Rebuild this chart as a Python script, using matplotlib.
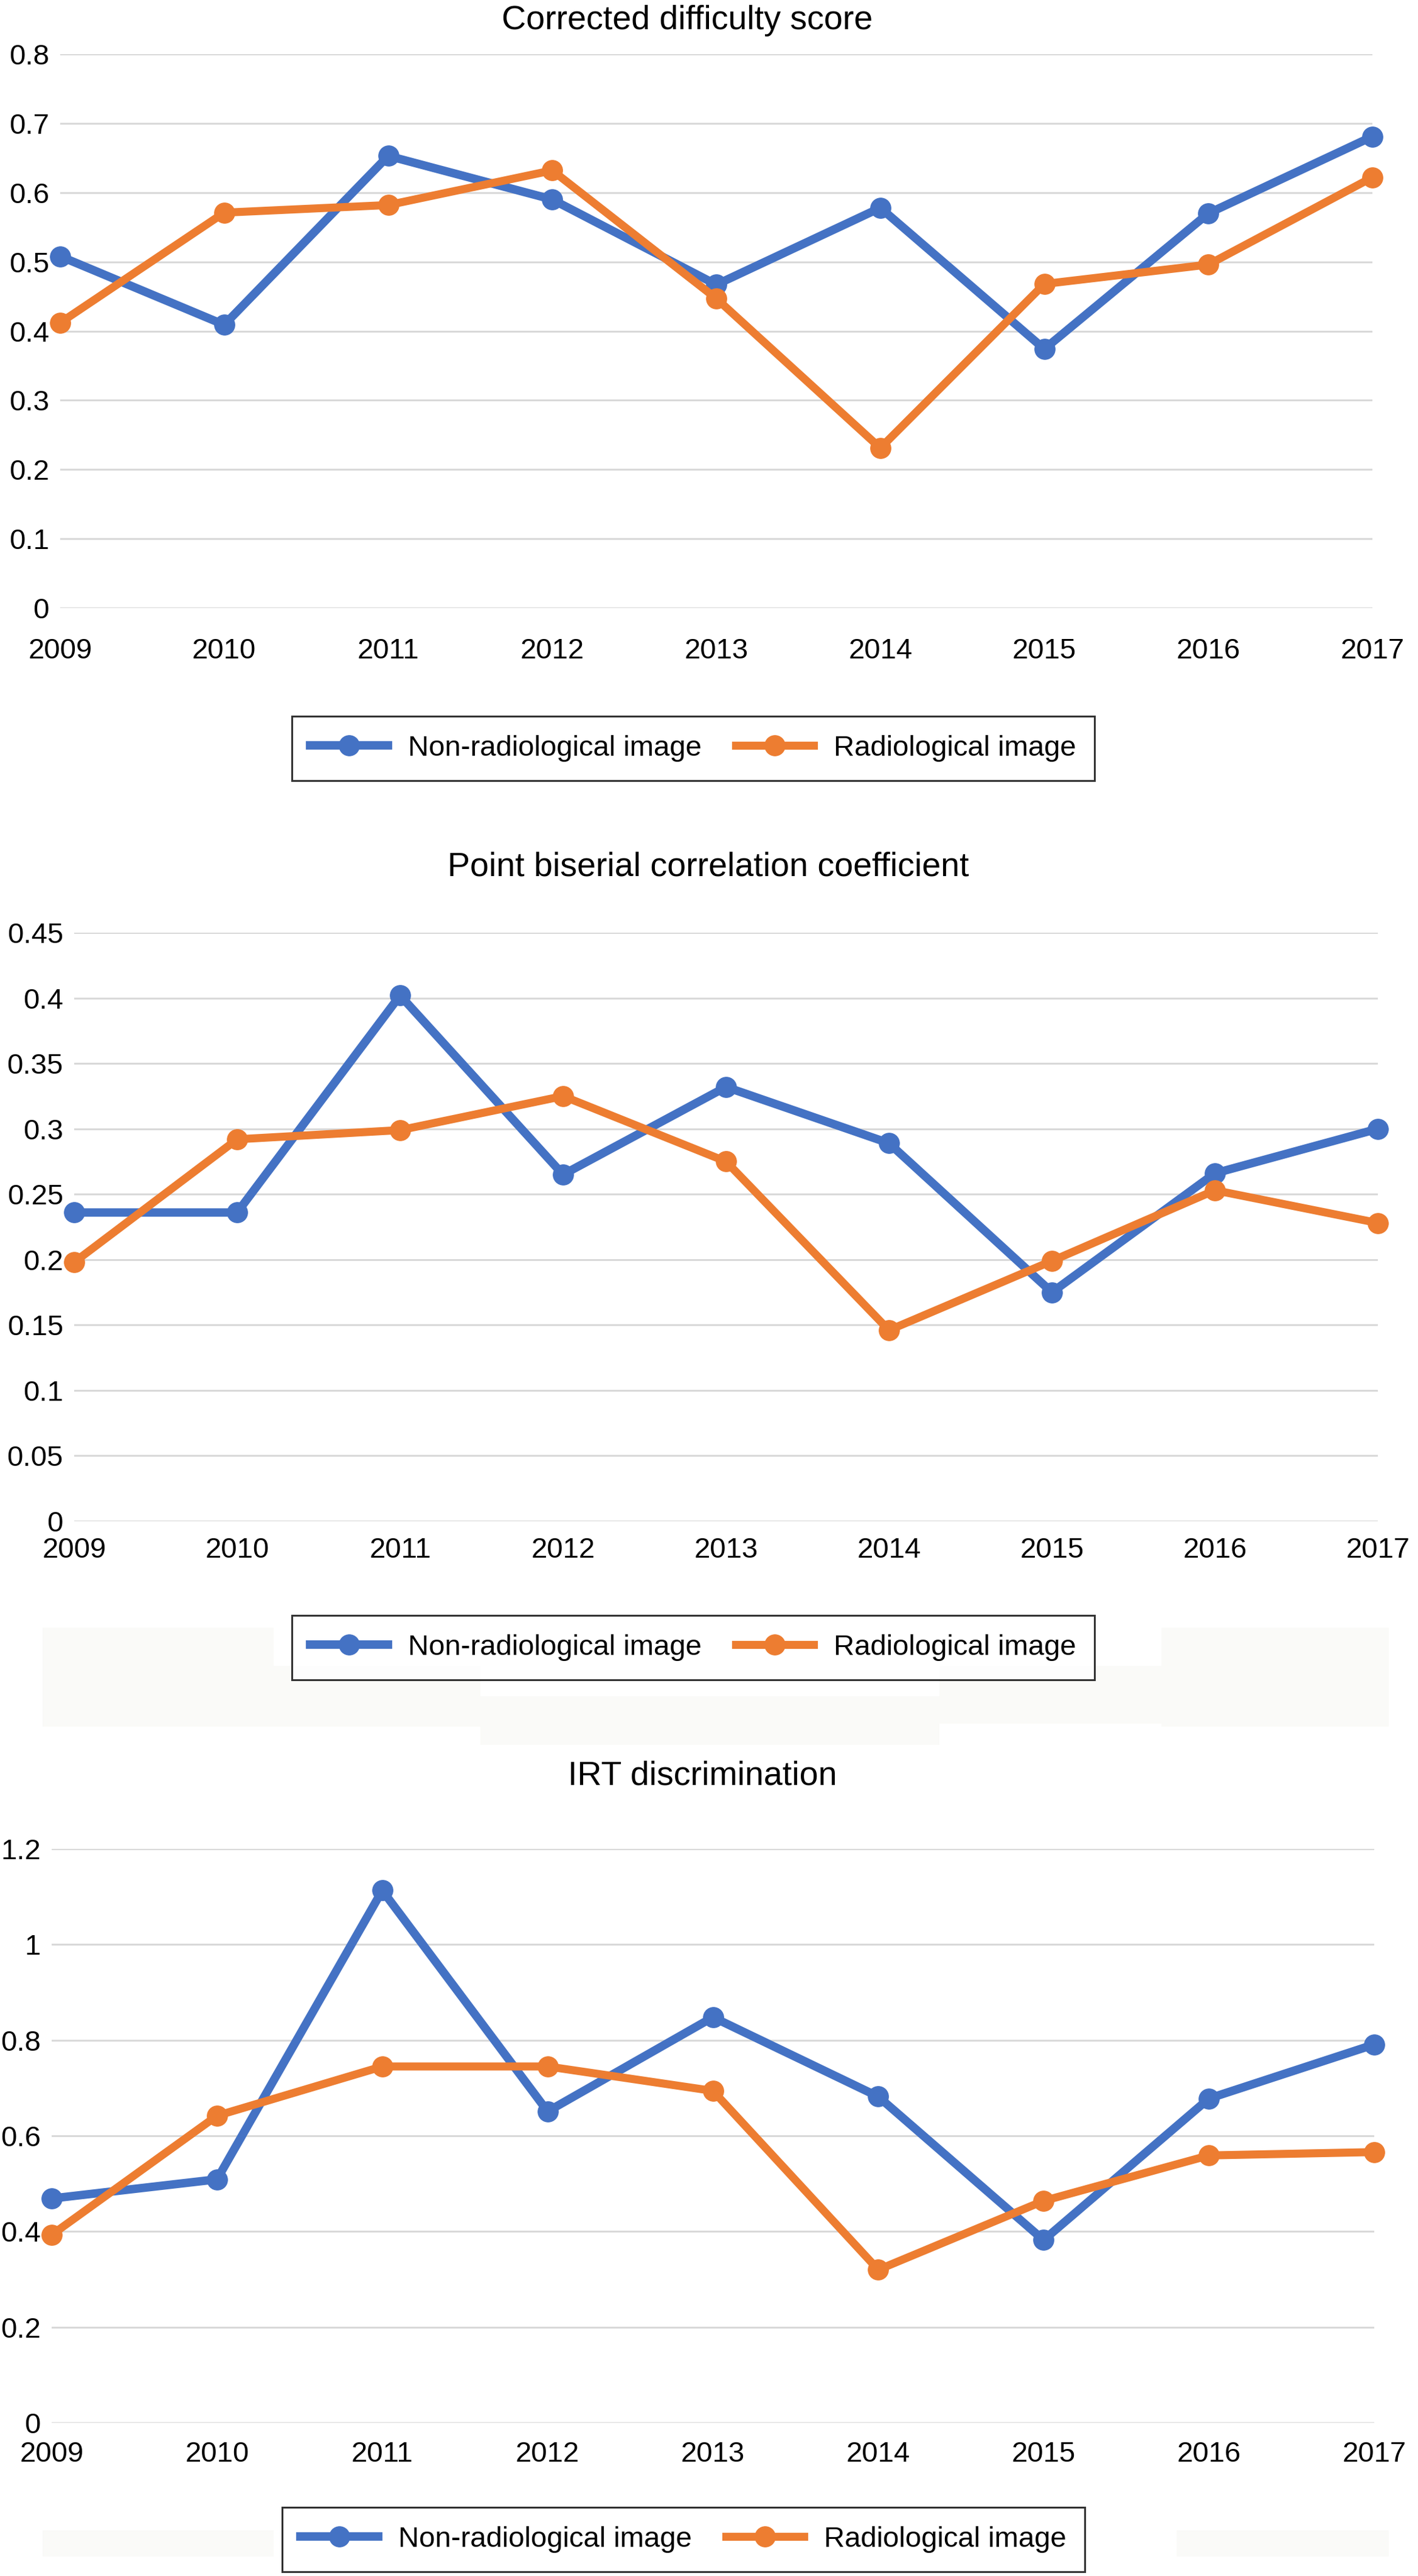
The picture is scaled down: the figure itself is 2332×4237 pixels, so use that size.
import matplotlib
matplotlib.use("Agg")
import matplotlib.pyplot as plt
from matplotlib.patches import Rectangle

plt.rcParams['font.family'] = ['Liberation Sans', 'DejaVu Sans']

years = [2009, 2010, 2011, 2012, 2013, 2014, 2015, 2016, 2017]
series_names = ["Non-radiological image", "Radiological image"]

difficulty_nonrad = [0.508, 0.409, 0.653, 0.590, 0.467, 0.578, 0.374, 0.570, 0.681]
difficulty_rad = [0.412, 0.571, 0.582, 0.632, 0.447, 0.231, 0.468, 0.496, 0.622]

pbis_nonrad = [0.236, 0.236, 0.402, 0.265, 0.332, 0.289, 0.175, 0.266, 0.300]
pbis_rad = [0.198, 0.292, 0.299, 0.325, 0.275, 0.146, 0.199, 0.253, 0.228]

irt_nonrad = [0.469, 0.509, 1.113, 0.651, 0.848, 0.682, 0.382, 0.678, 0.791]
irt_rad = [0.393, 0.642, 0.745, 0.745, 0.694, 0.320, 0.464, 0.559, 0.566]

titles = ["Corrected difficulty score", "Point biserial correlation coefficient", "IRT discrimination"]
yticks_1 = [0, 0.1, 0.2, 0.3, 0.4, 0.5, 0.6, 0.7, 0.8]
ylabels_1 = ["0", "0.1", "0.2", "0.3", "0.4", "0.5", "0.6", "0.7", "0.8"]
yticks_2 = [0, 0.05, 0.1, 0.15, 0.2, 0.25, 0.3, 0.35, 0.4, 0.45]
ylabels_2 = ["0", "0.05", "0.1", "0.15", "0.2", "0.25", "0.3", "0.35", "0.4", "0.45"]
yticks_3 = [0, 0.2, 0.4, 0.6, 0.8, 1.0, 1.2]
ylabels_3 = ["0", "0.2", "0.4", "0.6", "0.8", "1", "1.2"]

BLUE = "#4472C4"
ORANGE = "#ED7D31"
GRID = "#D9D9D9"

W, H = 2332, 4237
fig = plt.figure(figsize=(W / 100, H / 100), dpi=100)
fig.patch.set_facecolor("white")


def px_axes(l, t, r, b):
    return fig.add_axes([l / W, 1 - b / H, (r - l) / W, (b - t) / H])


# faint background artefacts behind the second and third legends
bg = fig.add_axes([0, 0, 1, 1], zorder=-10)
bg.set_xlim(0, W)
bg.set_ylim(H, 0)
bg.axis("off")
for (x0, y0, x1, y1) in [(70, 2677, 450, 2840), (450, 2740, 790, 2840), (790, 2790, 1545, 2870),
                         (1545, 2740, 1910, 2835), (1910, 2677, 2284, 2840),
                         (70, 4162, 450, 4205), (1935, 4162, 2284, 4205)]:
    bg.add_patch(Rectangle((x0, y0), x1 - x0, y1 - y0, facecolor="#FAFAF8", edgecolor="none"))

panels = [
    dict(box=(99, 89, 2257, 1000), ymax=0.8, yt=yticks_1, yl=ylabels_1,
         d1=difficulty_nonrad, d2=difficulty_rad, xpad=35,
         title=(1130, 48), leg=(1140, 1231)),
    dict(box=(122, 1534, 2266, 2502), ymax=0.45, yt=yticks_2, yl=ylabels_2,
         d1=pbis_nonrad, d2=pbis_rad, xpad=18.5,
         title=(1165, 1440), leg=(1140, 2710)),
    dict(box=(85, 3041, 2260, 3985), ymax=1.2, yt=yticks_3, yl=ylabels_3,
         d1=irt_nonrad, d2=irt_rad, xpad=21.5,
         title=(1155, 2935), leg=(1124, 4177)),
]

for i, p in enumerate(panels):
    ax = px_axes(*p["box"])
    ax.set_facecolor("none")
    ax.set_xlim(2009, 2017)
    ax.set_ylim(0, p["ymax"])
    for s in ax.spines.values():
        s.set_visible(False)
    ax.set_yticks(p["yt"])
    ax.set_yticklabels(p["yl"])
    ax.set_xticks(years)
    ax.set_xticklabels([str(y) for y in years])
    ax.tick_params(axis="y", length=0, pad=13, labelsize=34)
    ax.tick_params(axis="x", length=0, pad=p["xpad"], labelsize=34)
    for v in p["yt"]:
        ax.axhline(v, color=GRID, lw=2.2, zorder=1)
    l1, = ax.plot(years, p["d1"], color=BLUE, lw=10, marker="o", ms=24,
                  clip_on=False, zorder=3, label=series_names[0])
    l2, = ax.plot(years, p["d2"], color=ORANGE, lw=9.5, marker="o", ms=24,
                  clip_on=False, zorder=4, label=series_names[1])
    tx, ty = p["title"]
    fig.text(tx / W, 1 - ty / H, titles[i], ha="center", va="baseline", fontsize=40)
    lx, ly = p["leg"]
    leg = ax.legend(handles=[l1, l2], loc="center", bbox_to_anchor=(lx / W, 1 - ly / H),
                    bbox_transform=fig.transFigure, ncol=2, fontsize=34, frameon=True,
                    fancybox=False, edgecolor="black", handlelength=2.7,
                    handletextpad=0.7, columnspacing=1.2, borderpad=0.65,
                    borderaxespad=0)
    leg.get_frame().set_linewidth(2.2)

fig.savefig("out.png", dpi=100, facecolor="white")
